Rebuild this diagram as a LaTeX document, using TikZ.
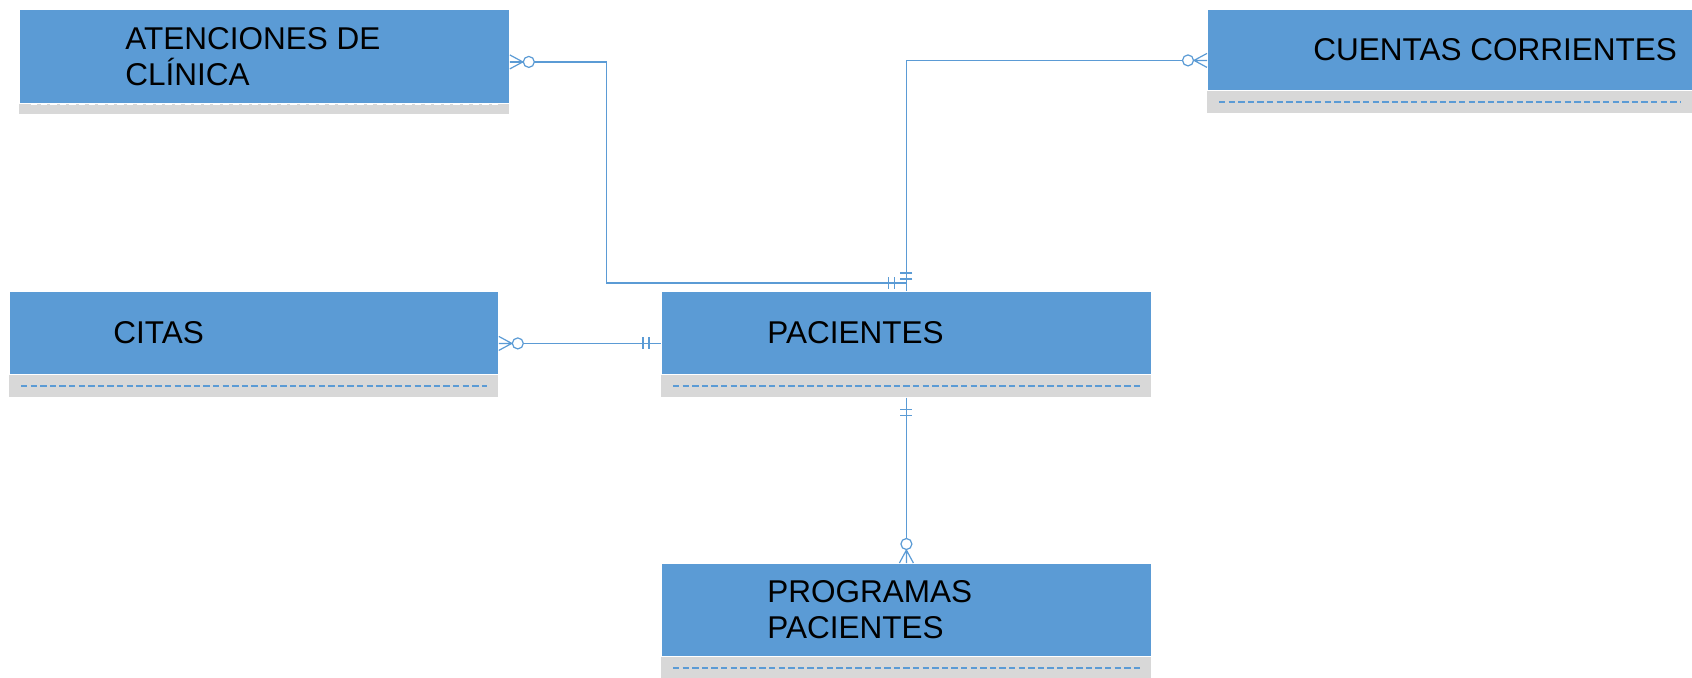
\documentclass[tikz,border=0pt]{standalone}
\usepackage{fontspec}
\setmainfont{Liberation Sans}
\usetikzlibrary{calc,positioning}
\definecolor{erblue}{RGB}{91,155,213}
\definecolor{ergrey}{RGB}{216,216,216}
\tikzset{
  ent/.style={draw=white,line width=.4pt,fill=erblue,anchor=north west,inner sep=0pt},
  keys/.style={fill=ergrey,anchor=north west,inner sep=0pt},
  title/.style={inner sep=0pt,align=left,font=\fontsize{15.75}{18}\selectfont},
  keyline/.style={erblue,line width=.9pt,dash pattern=on 3.2pt off 1.6pt},
  rel/.style={erblue,line width=.6pt},
  zmany/.pic={
    \draw[rel] (0pt,3.5pt) -- (6.5pt,0pt) -- (0pt,-3.5pt) (0pt,0pt) -- (6.5pt,0pt);
    \draw[rel,fill=white] (9.5pt,0pt) circle[radius=2.75pt];
  },
  zone/.pic={
    \draw[rel] (6pt,-3pt) -- (6pt,3pt) (9pt,-3pt) -- (9pt,3pt);
  }
}
\begin{document}
\begin{tikzpicture}[x=0.5pt,y=-0.5pt]
  \useasboundingbox (0,0) rectangle (1692,677);
  % entities
  \node[ent,minimum width=245pt,minimum height=47pt] (aten) at (19,9) {};
  \node[keys,minimum width=245pt,minimum height=5pt] (aten-k) at (aten.south west) {};
  \node[title,right=53pt of aten.west] (aten-t) {ATENCIONES DE\\CLÍNICA};
  \node[ent,minimum width=242.5pt,minimum height=40.5pt] (cuen) at (1207,9) {};
  \node[keys,minimum width=242.5pt,minimum height=11pt] (cuen-k) at (cuen.south west) {};
  \node[title,right=53pt of cuen.west] (cuen-t) {CUENTAS CORRIENTES};
  \node[ent,minimum width=244.5pt,minimum height=41.5pt] (citas) at (9,291) {};
  \node[keys,minimum width=244.5pt,minimum height=11pt] (citas-k) at (citas.south west) {};
  \node[title,right=52pt of citas.west] (citas-t) {CITAS};
  \node[ent,minimum width=245pt,minimum height=41.5pt] (pac) at (661,291) {};
  \node[keys,minimum width=245pt,minimum height=11pt] (pac-k) at (pac.south west) {};
  \node[title,right=53pt of pac.west] (pac-t) {PACIENTES};
  \node[ent,minimum width=245pt,minimum height=46.5pt] (prog) at (661,563) {};
  \node[keys,minimum width=245pt,minimum height=10.5pt] (prog-k) at (prog.south west) {};
  \node[title,right=53pt of prog.west] (prog-t) {PROGRAMAS\\PACIENTES};
  % key lines
  \draw[keyline,white] ([xshift=6pt]aten-k.north west) -- ([xshift=-6pt]aten-k.north east);
  \foreach \e in {cuen,citas,pac,prog}
    \draw[keyline] ([xshift=6pt]\e-k.west) -- ([xshift=-6pt]\e-k.east);
  % relations
  \coordinate (pac-in) at ([yshift=4pt]pac.north);
  \draw[rel] ([yshift=-2.75pt]aten.east) -| ([xshift=-150pt]pac-in) -- (pac-in);
  \draw[rel] ([yshift=-5.25pt]cuen.west) -| (pac.north);
  \draw[rel] ([yshift=-5.25pt]citas.east) -- ([yshift=-5.25pt]pac.west);
  \draw[rel] (pac-k.south) -- (prog.north);
  \pic at ([yshift=-2.75pt]aten.east) {zmany};
  \pic[rotate=180] at ([yshift=-5.25pt]cuen.west) {zmany};
  \pic at ([yshift=-5.25pt]citas.east) {zmany};
  \pic[rotate=90] at (prog.north) {zmany};
  \pic[rotate=180] at ([yshift=-5.25pt]pac.west) {zone};
  \pic[rotate=-90] at (pac-k.south) {zone};
  \pic[rotate=90] at (pac.north) {zone};
  \pic[rotate=180] at (pac-in) {zone};
\end{tikzpicture}
\end{document}
